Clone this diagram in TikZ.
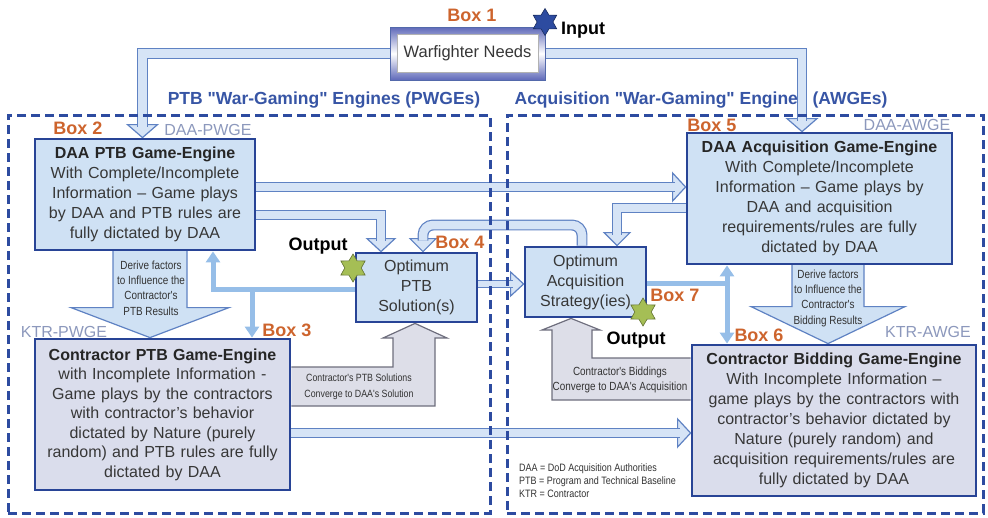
\documentclass[tikz,border=0pt]{standalone}
\usepackage{fontspec}
\setmainfont{Liberation Sans}
\newfontfamily\narrowfont[FakeStretch=0.84]{Liberation Sans}
\newfontfamily\titlefont[Ligatures=TeXOff]{Liberation Sans}
\usetikzlibrary{shapes.geometric,arrows.meta,calc}
\definecolor{boxblue}{RGB}{40,68,150}
\definecolor{lightfill}{RGB}{207,225,244}
\definecolor{lavfill}{RGB}{218,221,236}
\definecolor{pipefill}{RGB}{214,228,246}
\definecolor{pipeedge}{RGB}{95,130,195}
\definecolor{thickblue}{RGB}{150,190,232}
\definecolor{grayfill}{RGB}{221,222,232}
\definecolor{grayedge}{RGB}{110,110,125}
\definecolor{dashblue}{RGB}{45,75,160}
\definecolor{titleblue}{RGB}{55,85,165}
\definecolor{labelorange}{RGB}{205,100,45}
\definecolor{taggray}{RGB}{140,152,188}
\definecolor{bodygray}{RGB}{55,55,55}
\definecolor{starblue}{RGB}{45,75,160}
\definecolor{stargreen}{RGB}{165,190,85}
\definecolor{frameblue}{RGB}{95,105,185}
\pgfdeclarelayer{titles}
\pgfdeclarelayer{pipes}
\pgfdeclarelayer{frames}
\pgfsetlayers{titles,pipes,frames,main}
\newcommand\pipehead[3]{\begin{scope}[shift={#1},rotate=#2]\filldraw[headstyle] (0,0)--(-13,-#3)--(-13,#3)--cycle;\end{scope}}
\begin{document}
\begin{tikzpicture}[x=1pt,y=-1pt,
  engine/.style={draw=boxblue, line width=2.8pt, fill=lightfill, align=center, text=bodygray, font=\fontsize{16}{20}\selectfont, inner sep=0pt},
  ktr/.style={engine, fill=lavfill},
  pipe/.style={draw=pipeedge, line width=1.2pt, double=pipefill, double distance=8.5pt},
  headstyle/.style={fill=pipefill, draw=pipeedge, line width=1.2pt, line join=miter},
  bigarrow/.style={fill=lightfill, draw=pipeedge, line width=1.2pt},
  grayarrow/.style={fill=grayfill, draw=grayedge, line width=1.2pt},
  thickline/.style={draw=thickblue, line width=5pt},
  boxlabel/.style={text=labelorange, font=\bfseries\fontsize{18}{20}\selectfont, inner sep=0pt},
  tag/.style={text=taggray, font=\fontsize{16}{18}\selectfont, inner sep=0pt},
  outlabel/.style={text=black, font=\bfseries\fontsize{18}{20}\selectfont, inner sep=0pt},
  smalltext/.style={align=center, text=black!80, font=\narrowfont\fontsize{11.8}{15.3}\selectfont, inner sep=0pt},
  container/.style={draw=dashblue, line width=3pt, dash pattern=on 9pt off 5pt},
  titlestyle/.style={text=titleblue, font=\titlefont\bfseries\fontsize{17.5}{20}\selectfont, inner sep=0pt},
  sixstar/.style={star, star points=6, star point ratio=1.7, inner sep=0pt, line width=.6pt},
  btip/.style={-{Triangle[length=11pt,width=14pt]}},
]
\useasboundingbox (0,0) rectangle (988,517);

% ---------- boxes ----------
\node[top color=frameblue, bottom color=frameblue, middle color=white, draw=boxblue!80, line width=.8pt,
      minimum width=155pt, minimum height=53pt] (b1) at (467.5,53.5) {};
\node[fill=white, draw=gray!60, line width=.6pt, minimum width=141pt, minimum height=38pt,
      font=\fontsize{16.5}{18}\selectfont, text=bodygray] (b1t) at (b1.center) {Warfighter Needs};

\node[engine, minimum width=220pt, minimum height=111pt, text width=216pt] (b2) at (145,194.5)
 {\textbf{\color{black!85}DAA PTB Game-Engine}\\With Complete/Incomplete\\Information -- Game plays\\by DAA and PTB rules are\\fully dictated by DAA};
\node[ktr, minimum width=255pt, minimum height=151pt, text width=250pt, font=\fontsize{16}{19.5}\selectfont] (b3) at (162.5,414.5)
 {\textbf{\color{black!85}Contractor PTB Game-Engine}\\with Incomplete Information -\\Game plays by the contractors\\with contractor's behavior\\dictated by Nature (purely\\random) and PTB rules are fully\\dictated by DAA};
\node[engine, minimum width=121pt, minimum height=69pt, text width=118pt] (b4) at (416.5,287.5)
 {Optimum\\PTB\\Solution(s)};
\node[engine, minimum width=265pt, minimum height=131pt, text width=260pt] (b5) at (819.5,198.5)
 {\textbf{\color{black!85}DAA Acquisition Game-Engine}\\With Complete/Incomplete\\Information -- Game plays by\\DAA and acquisition\\requirements/rules are fully\\dictated by DAA};
\node[ktr, minimum width=284pt, minimum height=151pt, text width=280pt] (b6) at (834,420.5)
 {\textbf{\color{black!85}Contractor Bidding Game-Engine}\\With Incomplete Information --\\game plays by the contractors with\\contractor's behavior dictated by\\Nature (purely random) and\\acquisition requirements/rules are\\fully dictated by DAA};
\node[engine, minimum width=121pt, minimum height=70pt, text width=118pt] (b7) at (585.5,282)
 {Optimum\\Acquisition\\Strategy(ies)};

% ---------- titles ----------
\begin{pgfonlayer}{titles}
\node[titlestyle] (t1) at (324,100) {PTB "War-Gaming" Engines (PWGEs)};
\node[titlestyle] (t2) at (701,100) {Acquisition "War-Gaming" Engines (AWGEs)};
\end{pgfonlayer}

% ---------- connectors ----------
\begin{pgfonlayer}{pipes}
\coordinate (tA) at (b2.north -| 142.5,0);
\pipehead{(tA)}{-90}{15}
\draw[pipe] (b1.west) -| ($(tA)+(0,-11)$);

\coordinate (tB) at (b5.north -| 802,0);
\pipehead{(tB)}{-90}{15}
\draw[pipe] (b1.east) -| ($(tB)+(0,-11)$);

\coordinate (tC) at (b5.west |- 0,187);
\pipehead{(tC)}{0}{14}
\draw[pipe] (b2.east |- 0,187) -- ($(tC)+(-11,0)$);

\coordinate (tD) at (b4.north -| 381,0);
\pipehead{(tD)}{-90}{14}
\draw[pipe] (b2.east |- 0,215) -| ($(tD)+(0,-11)$);

\coordinate (tE) at (b4.north -| 423,0);
\pipehead{(tE)}{-90}{13}
\draw[pipe, rounded corners=10pt] (b7.north -| 582,0) -- (582,225) -- (423,225) -- ($(tE)+(0,-11)$);

\coordinate (tF) at (b7.north -| 617,0);
\pipehead{(tF)}{-90}{13}
\draw[pipe] (b5.west |- 0,208) -| ($(tF)+(0,-11)$);

\coordinate (tG) at (b7.west |- 0,284);
\pipehead{(tG)}{0}{12}
\draw[pipe, double distance=6pt] (b4.east |- 0,284) -- ($(tG)+(-11,0)$);

\coordinate (tH) at (b6.west |- 0,433);
\pipehead{(tH)}{0}{14}
\draw[pipe] (b3.east |- 0,433) -- ($(tH)+(-11,0)$);

% big derive arrows
\coordinate (tI) at (b3.north -| 150,0);
\begin{scope}[shift={(tI)}]
\filldraw[bigarrow] (-37,-92) -- (-37,-30) -- (-79,-30) -- (0,0) -- (79,-30) -- (37,-30) -- (37,-92);
\end{scope}
\node[smalltext] (dI) at (151,288) {Derive factors\\to Influence the\\Contractor's\\PTB Results};

\coordinate (tJ) at (b6.north -| 828,0);
\begin{scope}[shift={(tJ)}]
\filldraw[bigarrow] (-36,-84) -- (-36,-37) -- (-77,-37) -- (0,0) -- (77,-37) -- (36,-37) -- (36,-84);
\end{scope}
\node[smalltext] (dJ) at (828,298) {Derive factors\\to Influence the\\Contractor's\\Bidding Results};

% gray converge arrows
\filldraw[grayarrow] (b3.east |- 0,367) -- (393,367) -- (393,338) -- (383,338) -- (b4.south -| 415,0)
   -- (447,338) -- (435,338) -- (435,406) -- (b3.east |- 0,406);
\node[smalltext, font=\narrowfont\fontsize{10.5}{16}\selectfont] (cK) at (359,387) {Contractor's PTB Solutions\\Converge to DAA's Solution};

\filldraw[grayarrow] (b6.west |- 0,358) -- (592,358) -- (592,330) -- (600,330) -- (b7.south -| 571,0)
   -- (542,330) -- (552,330) -- (552,400) -- (b6.west |- 0,400);
\node[smalltext, font=\narrowfont\fontsize{11.8}{15}\selectfont] (cL) at (620,380) {Contractor's Biddings\\Converge to DAA's Acquisition};

% thick light-blue feedback lines
\coordinate (jM) at (252,289);
\draw[thickline, btip] (b4.west |- 0,289) -| (b2.south -| 213,0);
\draw[thickline, btip] (jM) -- (b3.north -| 252,0);
\coordinate (jN) at (727,283);
\draw[thickline] (b7.east |- 0,283) -- (jN);
\draw[thickline, {Triangle[length=11pt,width=14pt]}-{Triangle[length=11pt,width=14pt]}] (b5.south -| 727,0) -- (b6.north -| 727,0);
\end{pgfonlayer}

% ---------- containers ----------
\begin{pgfonlayer}{frames}
\node[container, minimum width=482pt, minimum height=398pt, inner sep=0pt, outer sep=0pt] (pw) at (249,314) {};
\node[container, minimum width=476pt, minimum height=398pt, inner sep=0pt, outer sep=0pt] (aw) at (745,314) {};
\end{pgfonlayer}

% ---------- labels ----------
\node[boxlabel] (l1) at (472,15) {Box 1};
\node[boxlabel] (l2) at (78,128) {Box 2};
\node[boxlabel] (l3) at (287,330) {Box 3};
\node[boxlabel] (l4) at (460,242) {Box 4};
\node[boxlabel] (l5) at (712,125) {Box 5};
\node[boxlabel] (l6) at (759,335) {Box 6};
\node[boxlabel] (l7) at (675,295) {Box 7};

\node[tag] (g2) at (208,130) {DAA-PWGE};
\node[tag] (g3) at (64,332) {KTR-PWGE};
\node[tag] (g5) at (907,125) {DAA-AWGE};
\node[tag] (g6) at (928,332) {KTR-AWGE};

\node[sixstar, minimum size=27pt, fill=starblue, draw=starblue!60!black] (sIn) at (545,22) {};
\node[outlabel] (inp) at (583,30) {Input};
\node[sixstar, minimum size=28pt, fill=stargreen, draw=stargreen!60!black] (sO1) at (353,268) {};
\node[outlabel] (o1) at (318,246) {Output};
\node[sixstar, minimum size=28pt, fill=stargreen, draw=stargreen!60!black] (sO2) at (643,312) {};
\node[outlabel] (o2) at (636,340) {Output};

\node[align=left, anchor=west, inner sep=0pt, text=black!80, font=\narrowfont\fontsize{10.7}{13}\selectfont] (lg) at (519,481)
 {DAA = DoD Acquisition Authorities\\PTB = Program and Technical Baseline\\KTR = Contractor};
\end{tikzpicture}
\end{document}
